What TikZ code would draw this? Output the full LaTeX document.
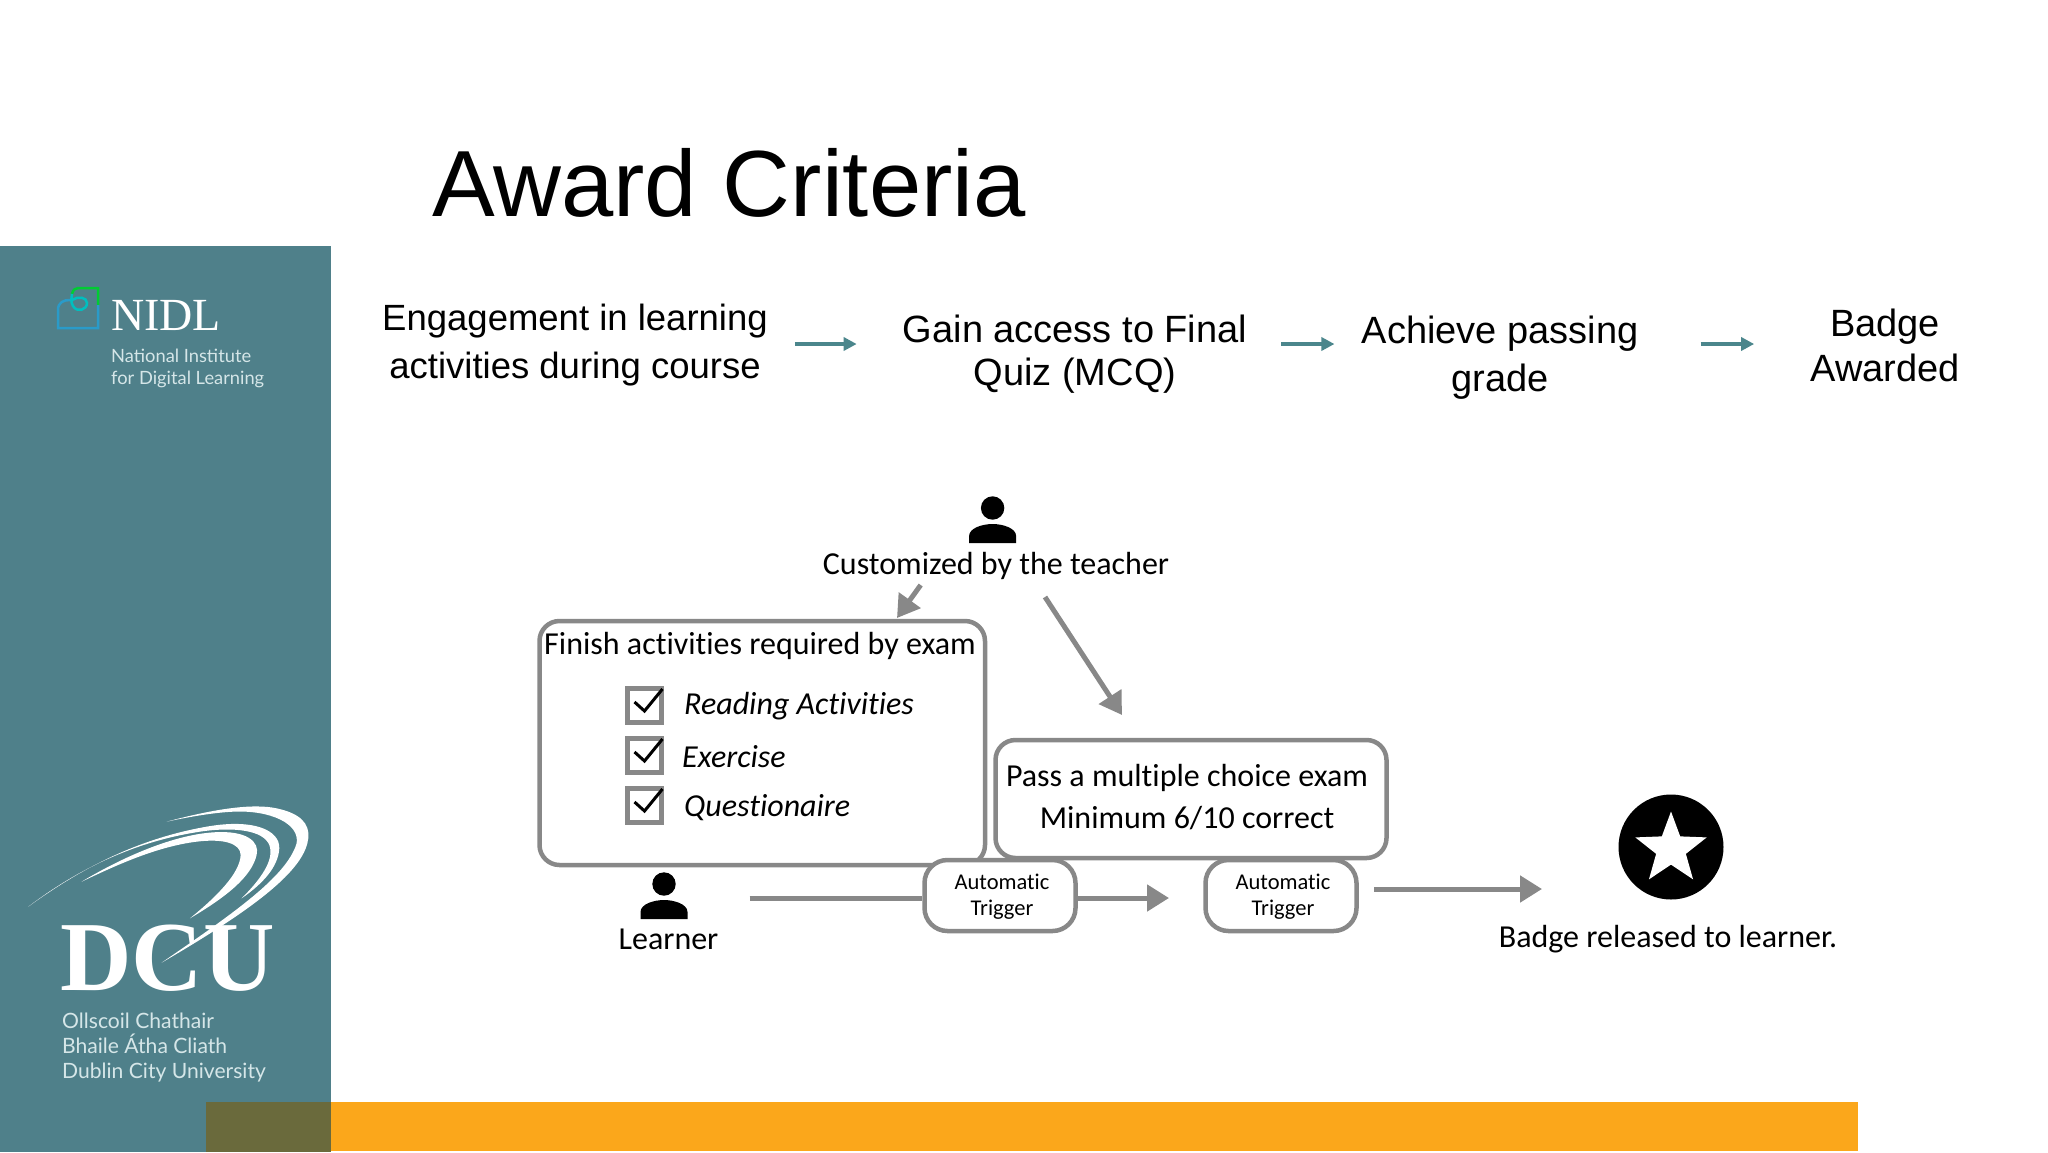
\documentclass[tikz,border=0pt]{standalone}
\usepackage{fontspec}
\usetikzlibrary{arrows.meta,shapes.geometric}
\setmainfont{Liberation Sans}
\newfontfamily\flowfont[Ligatures=NoCommon]{Carlito}
\newfontfamily\logofont{Lato}
\newfontfamily\crestfont{Liberation Serif}
\definecolor{nidlteal}{HTML}{4F808A}
\definecolor{dcuorange}{HTML}{FBA71B}
\definecolor{dcuolive}{HTML}{6A6A3C}
\definecolor{flowgray}{HTML}{888888}
\definecolor{logopale}{HTML}{D5E6E8}
\definecolor{topteal}{HTML}{4B868C}
\tikzset{
    steptext/.style={align=center,inner sep=0pt,font=\fontsize{38}{#1}\selectfont},
    steptext/.default=48,
    toparrow/.style={topteal,line width=3.5pt,-{Triangle[length=13pt,width=13pt]}},
    flowtext/.style={align=center,inner sep=0pt,font=\flowfont\fontsize{32}{42}\selectfont},
    ticklabel/.style={anchor=west,inner sep=0pt,font=\flowfont\itshape\fontsize{32}{40}\selectfont},
    flowbox/.style={draw=flowgray,line width=4.5pt,rounded corners=20pt,fill=white,inner sep=0pt},
    triggerbox/.style={flowbox,rounded corners=23pt,minimum width=151pt,minimum height=71pt},
    triggertext/.style={align=center,inner sep=0pt,font=\flowfont\fontsize{22.5}{26}\selectfont},
    tickbox/.style={draw=flowgray,line width=5pt,minimum size=34pt,inner sep=0pt},
    flowline/.style={flowgray,line width=5pt},
    flowarrow/.style={flowline,-{Triangle[length=22pt,width=26pt]}},
    tickmark/.style={black,line width=3pt},
    logotext/.style={logopale,anchor=west,align=left,inner sep=0pt},
    personicon/.pic={
        \fill[black] (0,0) circle (11.7);
        \fill[black] (-23.5,35) -- (-23.5,28) .. controls (-23.5,20) and (-10,16) .. (0,16) .. controls (10,16) and (23.5,20) .. (23.5,28) -- (23.5,35) -- cycle;
    }
}
\begin{document}
\begin{tikzpicture}[x=1pt,y=-1pt]
                    \useasboundingbox (0,0) rectangle (2048,1152);
                    \fill[white] (0,0) rectangle (2048,1152);
                    \fill[nidlteal] (0,246) rectangle (331,1152);
                    \fill[dcuorange] (331,1102) rectangle (1858,1151);
                    \fill[dcuolive] (206,1102) rectangle (331,1152);
                    \draw[green!60!teal,line width=2.5pt] (72,294) .. controls (73,290) and (75,288) .. (78,288) -- (98,288) -- (98,305);
                    \draw[cyan!60!teal,line width=2.5pt] (98,305) -- (98,328) -- (58,328) -- (58,310) .. controls (58,302) and (64,300) .. (70,300);
                    \draw[teal!50!cyan,line width=2.5pt] (72,294) .. controls (72,298) and (70,301) .. (73,306) .. controls (77,313) and (87,310) .. (87,303) .. controls (87,297) and (78,296) .. (72,300);
                    \node[logotext,text=white,font=\crestfont\fontsize{46}{46}\selectfont] (nidlname) at (111,315) {NIDL};
                    \node[logotext,font=\logofont\fontsize{18.3}{22}\selectfont] (nidlfull) at (111,368) {National Institute\\for Digital Learning};
                    \node[logotext,text=white,font=\crestfont\bfseries\fontsize{99}{99}\selectfont] (dcuname) at (60,958) {DCU};
                    \begin{scope}[shift={(0,780)},x=0.3333pt,y=-0.3333pt]
                        \fill[white] (500,125) .. controls (650,85) and (760,70) .. (830,85) .. controls (900,100) and (930,130) .. (925,175) .. controls (915,260) and (800,365) .. (485,548) .. controls (700,400) and (860,290) .. (890,190) .. controls (900,130) and (810,90) .. (700,95) .. controls (640,98) and (570,110) .. (500,125) -- cycle;
                        \fill[white] (85,380) .. controls (250,260) and (420,175) .. (620,140) .. controls (760,115) and (840,150) .. (838,205) .. controls (835,260) and (790,310) .. (725,355) .. controls (780,300) and (825,240) .. (808,195) .. controls (790,150) and (700,140) .. (600,155) .. controls (400,185) and (230,270) .. (85,380) -- cycle;
                        \fill[white] (245,305) .. controls (370,230) and (520,165) .. (640,157) .. controls (740,150) and (780,185) .. (770,225) .. controls (755,290) and (680,350) .. (570,415) .. controls (650,350) and (720,280) .. (722,225) .. controls (722,190) and (670,175) .. (590,185) .. controls (470,200) and (350,255) .. (245,305) -- cycle;
                    \end{scope}
                    \node[logotext,font=\logofont\fontsize{21.1}{25}\selectfont] (dcufull) at (62,1048) {Ollscoil Chathair\\Bhaile Átha Cliath\\Dublin City University};
                    \node[anchor=base west,inner sep=0pt,font=\fontsize{94}{94}\selectfont] (title) at (432,216) {Award Criteria};
                    \node[steptext,font=\fontsize{36.5}{48}\selectfont] (engage) at (575,345) {Engagement in learning\\activities during course};
                    \node[steptext=43] (quiz) at (1075,354.5) {Gain access to Final\\Quiz (MCQ)};
                    \node[steptext=48] (grade) at (1500,358) {Achieve passing\\grade};
                    \node[steptext=45] (awarded) at (1885,345) {Badge\\Awarded};
                    \draw[toparrow] ([xshift=27,yshift=1]engage.east) -- ([xshift=-46,yshift=10.5]quiz.west);
                    \draw[toparrow] ([xshift=34,yshift=10.5]quiz.east) -- ([xshift=-27,yshift=14]grade.west);
                    \draw[toparrow] ([xshift=62,yshift=14]grade.east) -- ([xshift=-56,yshift=1]awarded.west);
                    \pic (teacher) at (992.6,508) {personicon};
                    \node[flowtext] (teacherlabel) at (996,565.5) {Customized by the teacher};
                    \node[flowbox,minimum width=445.5pt,minimum height=244pt] (activities) at (762.25,743) {};
                    \node[flowtext] (activitiestitle) at (760,645.5) {Finish activities required by exam};
                    \node[tickbox] (readbox) at (644.5,705) {};
                    \node[tickbox] (exercisebox) at (644.5,755) {};
                    \node[tickbox] (quizbox) at (644.5,805) {};
                    \foreach \boxname in {readbox,exercisebox,quizbox}
                        \draw[tickmark] ([shift={(-10,-3)}]\boxname.center) -- ([shift={(0,6)}]\boxname.center) -- ([shift={(18,-16)}]\boxname.center);
                    \node[ticklabel] (readlabel) at (684,706.5) {Reading Activities};
                    \node[ticklabel] (exerciselabel) at (682,757) {Exercise};
                    \node[ticklabel] (quizlabel) at (684,808) {Questionaire};
                    \node[flowbox,minimum width=391pt,minimum height=118pt] (exam) at (1191,799) {};
                    \node[flowtext] (examlabel) at (1187,797) {Pass a multiple choice exam\\Minimum 6/10 correct};
                    \pic (learner) at (664,884) {personicon};
                    \node[flowtext] (learnerlabel) at (668.5,939) {Learner};
                    \coordinate (learnerout) at (749.6,898);
                    \node[triggerbox] (triggerone) at (1000,895.5) {};
                    \node[triggertext] (triggeronelabel) at (1002,896.5) {Automatic\\Trigger};
                    \node[triggerbox] (triggertwo) at (1281,895.5) {};
                    \node[triggertext] (triggertwolabel) at (1283,896.5) {Automatic\\Trigger};
                    \draw[flowline] (learnerout) -- (learnerout -| triggerone.west);
                    \coordinate (firsttip) at (1169,898);
                    \draw[flowarrow] (firsttip -| triggerone.east) -- (firsttip);
                    \coordinate (secondout) at (1374,889);
                    \node[circle,fill=black,minimum size=105pt,inner sep=0pt] (badge) at (1671,847) {};
                    \node[star,star points=5,star point ratio=2.4,fill=white,minimum size=75pt,inner sep=0pt] (badgestar) at (1671,849) {};
                    \coordinate (secondtip) at (1542,889);
                    \draw[flowarrow] (secondout) -- (secondtip);
                    \node[flowtext] (badgelabel) at (1668,939.5) {Badge released to learner.};
                    \coordinate (teachershort) at (920.7,585);
                    \coordinate (teacherlong) at (1045,597);
                    \coordinate (activitiesin) at (897,618);
                    \coordinate (examin) at (1122,715);
                    \draw[flowarrow] (teachershort) -- (activitiesin);
                    \draw[flowarrow] (teacherlong) -- (examin);
                \end{tikzpicture}
\end{document}
